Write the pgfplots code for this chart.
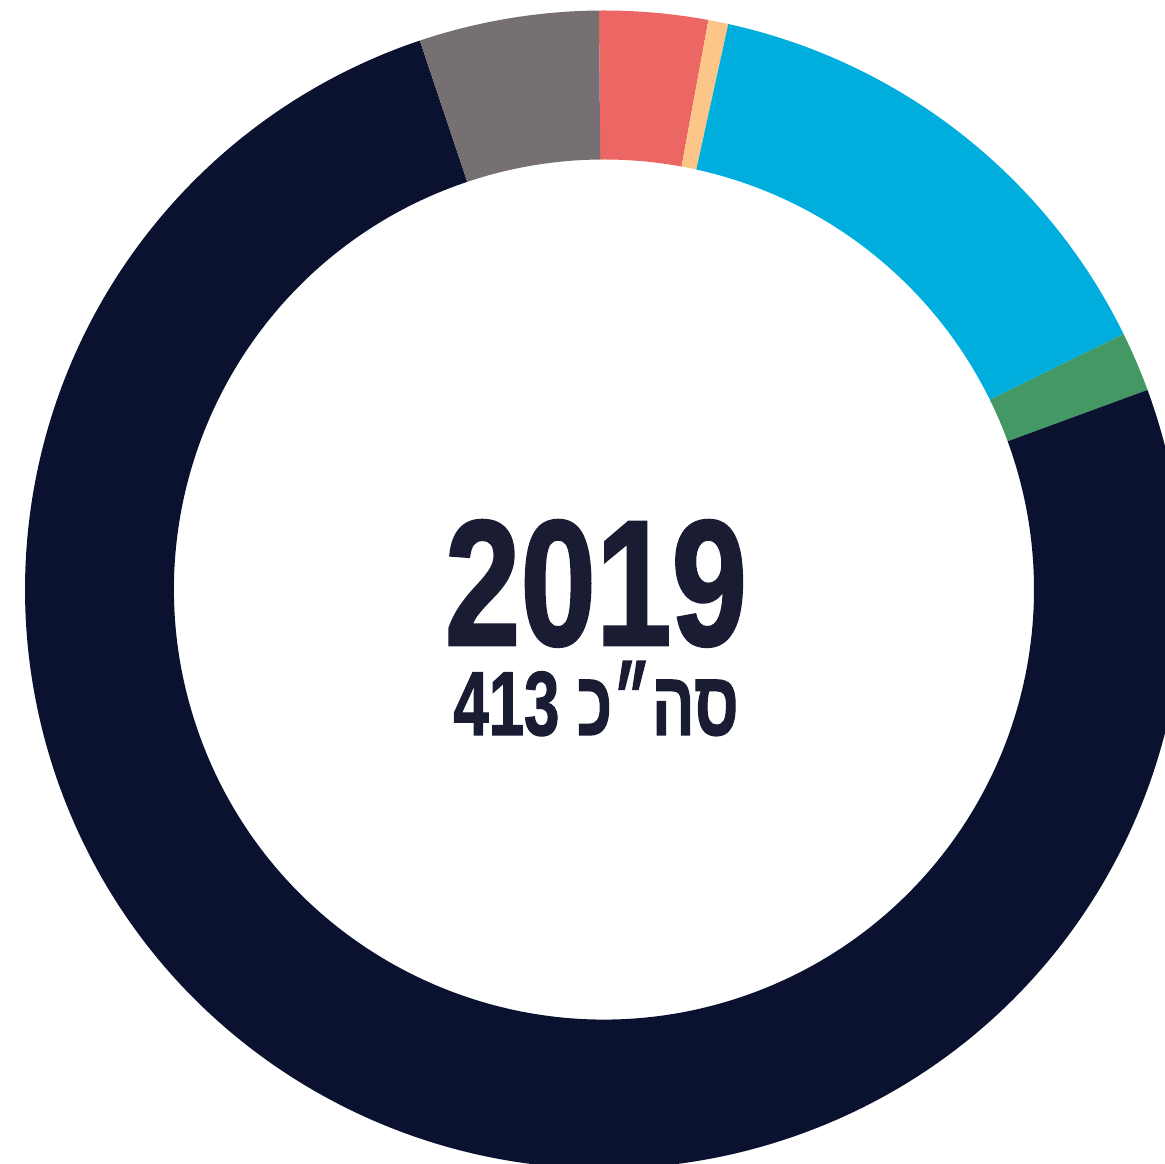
\documentclass[border=0pt]{standalone}
\usepackage{pgfplots}
\pgfplotsset{compat=1.18}
\usepackage{pgfplotstable}
\usepackage{graphicx}
\usepackage{fontspec}
\setmainfont{Liberation Sans}
\newfontfamily\numfont[FakeBold=1.6]{Liberation Sans Bold}
\newfontfamily\hebfont[Script=Hebrew,FakeBold=1.6]{Liberation Sans Bold}
\TeXXeTstate=1
\definecolor{cRed}{HTML}{EC6764}
\definecolor{cOrange}{HTML}{FBC687}
\definecolor{cBlue}{HTML}{00AEDE}
\definecolor{cGreen}{HTML}{449863}
\definecolor{cNavy}{HTML}{0B1230}
\definecolor{cGray}{HTML}{767073}
\definecolor{cText}{HTML}{1A1C33}

% values read off the ring (total 413), clockwise from the top
\pgfplotstableread{
label value col
red 12.5 cRed
orange 2.3 cOrange
blue 59 cBlue
green 6.9 cGreen
navy 311.6 cNavy
gray 20.7 cGray
}\ringdata

\def\Ro{144.75pt}
\def\Ri{107.5pt}
\def\Rd{37.25pt}

\begin{document}
\begin{tikzpicture}
\begin{axis}[hide axis, scale only axis, width=291.25pt, height=291pt,
  xmin=0, xmax=1165, ymin=0, ymax=1164, clip=true]
\pgfplotsextra{%
  \gdef\cum{0}%
  \foreach \i in {0,...,5}{%
    \pgfplotstablegetelem{\i}{value}\of\ringdata \let\segv\pgfplotsretval
    \pgfplotstablegetelem{\i}{col}\of\ringdata \let\segc\pgfplotsretval
    \pgfmathsetmacro\ta{90.5-\cum/413*360}%
    \pgfmathsetmacro\tb{90.5-(\cum+\segv)/413*360}%
    \pgfmathsetmacro\tc{\tb+180}%
    \fill[color=\segc] (axis cs:604,574.5) ++(\ta:\Ro)
      arc[start angle=\ta, end angle=\tb, radius=\Ro]
      -- ++(\tc:\Rd)
      arc[start angle=\tb, end angle=\ta, radius=\Ri] -- cycle;
    \pgfmathsetmacro\newcum{\cum+\segv}%
    \xdef\cum{\newcum}%
  }%
}
\node[anchor=base, text=cText, inner sep=0pt, text depth=0pt] at (axis cs:596,519)
  {\scalebox{0.76}[1]{\numfont\fontsize{44.7pt}{44.7pt}\selectfont 2019}};
\node[anchor=base, text=cText, inner sep=0pt, text depth=0pt, text height=16pt] at (axis cs:596,429)
  {\scalebox{0.70}[1]{\hebfont\fontsize{22.7pt}{22.7pt}\selectfont 413 \beginR סה״כ\endR}};
\end{axis}
\pgfresetboundingbox
\path[use as bounding box] (current axis.south west) rectangle (current axis.north east);
\end{tikzpicture}
\end{document}
